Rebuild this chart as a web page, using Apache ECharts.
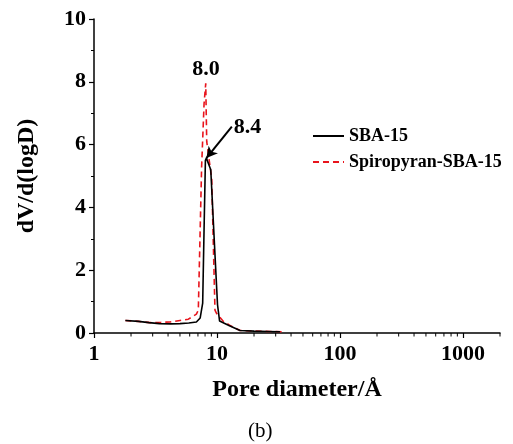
<!DOCTYPE html>
<html>
<head>
<meta charset="utf-8">
<script src="https://cdn.jsdelivr.net/npm/echarts@6/dist/echarts.min.js"></script>
<style>
  html, body { margin: 0; padding: 0; background: #fff; }
  #chart { width: 513px; height: 444px; }
</style>
</head>
<body>
<div id="chart"></div>
<script>
// SBA-15 (solid black)
var sbaX = [1.8, 2.3, 2.8, 3.4, 4.2, 5.0, 5.9, 6.8, 7.3, 7.65, 7.85, 8.05, 8.2, 8.9, 9.6, 10.1, 10.5, 12.5, 15.4, 20, 26, 32.5];
var sbaY = [0.40, 0.37, 0.33, 0.30, 0.29, 0.30, 0.32, 0.35, 0.48, 0.95, 3.3, 5.5, 5.57, 5.2, 2.6, 0.9, 0.38, 0.24, 0.08, 0.06, 0.05, 0.04];

// Spiropyran-SBA-15 (dashed red)
var spiroX = [1.8, 2.3, 2.85, 3.5, 4.15, 5.0, 5.85, 6.8, 7.05, 7.5, 7.85, 8.1, 8.25, 9.06, 9.63, 9.9, 11.2, 13.0, 15.4, 20, 27, 35];
var spiroY = [0.40, 0.37, 0.33, 0.34, 0.35, 0.40, 0.44, 0.60, 0.73, 5.3, 7.3, 7.95, 6.1, 4.9, 0.73, 0.63, 0.38, 0.22, 0.08, 0.06, 0.05, 0.04];

// minor tick positions on the log x axis
var minorTickVals = [2, 3, 4, 5, 6, 7, 8, 9, 20, 30, 40, 50, 60, 70, 80, 90, 200, 300, 400, 500, 600, 700, 800, 900, 2000];

var font = 'Liberation Serif';

function pairs(xs, ys) {
    return xs.map(function (x, i) { return [x, ys[i]]; });
}

var chart = echarts.init(document.getElementById('chart'));

var option = {
    animation: false,
    backgroundColor: '#fff',
    grid: { left: 94, right: 13, top: 19, bottom: 111 },
    legend: {
        data: ['SBA-15', 'Spiropyran-SBA-15'],
        orient: 'vertical',
        left: 307,
        top: 122,
        itemWidth: 31,
        itemHeight: 14,
        itemGap: 8,
        itemStyle: { opacity: 0 },
        textStyle: { fontFamily: font, fontWeight: 'bold', fontSize: 18, color: '#000' }
    },
    xAxis: {
        type: 'log',
        logBase: 10,
        min: 1,
        max: 2000,
        interval: 1,
        name: 'Pore diameter/Å',
        nameLocation: 'middle',
        nameGap: 45,
        nameTextStyle: { fontFamily: font, fontWeight: 'bold', fontSize: 24, color: '#000' },
        axisLine: { lineStyle: { color: '#000', width: 1.5 } },
        axisTick: { inside: false, length: 5, lineStyle: { color: '#000', width: 1.2 } },
        minorTick: { show: false },
        splitLine: { show: false },
        axisLabel: {
            showMaxLabel: false,
            margin: 10,
            fontFamily: font, fontWeight: 'bold', fontSize: 22, color: '#000',
            formatter: function (v) { return String(Math.round(v)); }
        }
    },
    yAxis: {
        type: 'value',
        min: 0,
        max: 10,
        interval: 2,
        name: 'dV/d(logD)',
        nameLocation: 'middle',
        nameGap: 55,
        nameTextStyle: { fontFamily: font, fontWeight: 'bold', fontSize: 24, color: '#000' },
        axisLine: { show: true, lineStyle: { color: '#000', width: 1.5 } },
        axisTick: { show: true, inside: false, length: 5, lineStyle: { color: '#000', width: 1.2 } },
        minorTick: { show: true, splitNumber: 2, length: 3, lineStyle: { color: '#000', width: 1 } },
        splitLine: { show: false },
        axisLabel: { margin: 8, fontFamily: font, fontWeight: 'bold', fontSize: 22, color: '#000' }
    },
    series: [
        {
            name: 'SBA-15',
            type: 'line',
            data: pairs(sbaX, sbaY),
            symbol: 'none',
            z: 3,
            lineStyle: { color: '#000', width: 1.6 },
            itemStyle: { color: '#000' },
            markPoint: {
                symbolSize: 0,
                data: [{ coord: [17.7, 6.54], value: '8.4' }],
                label: { show: true, position: 'inside', formatter: '8.4',
                    fontFamily: font, fontWeight: 'bold', fontSize: 22, color: '#000' }
            },
            markLine: {
                silent: true,
                symbol: ['none', 'arrow'],
                symbolSize: [9, 11],
                label: { show: false },
                lineStyle: { color: '#000', width: 2, type: 'solid' },
                data: [[{ coord: [13.2, 6.57] }, { coord: [8.2, 5.57] }]]
            }
        },
        {
            name: 'Spiropyran-SBA-15',
            type: 'line',
            data: pairs(spiroX, spiroY),
            symbol: 'none',
            z: 2,
            lineStyle: { color: '#e8141c', width: 1.6, type: [6, 4] },
            itemStyle: { color: '#e8141c' },
            markPoint: {
                symbolSize: 0,
                data: [{ coord: [8.14, 8.41], value: '8.0' }],
                label: { show: true, position: 'inside', formatter: '8.0',
                    fontFamily: font, fontWeight: 'bold', fontSize: 22, color: '#000' }
            }
        },
        {
            // short downward ticks for 2..9 of each decade
            name: 'minorTicks',
            type: 'custom',
            silent: true,
            clip: false,
            data: minorTickVals.map(function (v) { return [v, 0]; }),
            renderItem: function (params, api) {
                var p = api.coord([api.value(0), 0]);
                return {
                    type: 'line',
                    shape: { x1: p[0], y1: p[1], x2: p[0], y2: p[1] + 3.5 },
                    style: { stroke: '#000', lineWidth: 1 }
                };
            }
        }
    ],
    graphic: [
        {
            type: 'text',
            left: 248,
            top: 421,
            style: { text: '(b)', fontFamily: font, fontSize: 21, fill: '#000' }
        }
    ]
};

chart.setOption(option);
</script>
</body>
</html>
